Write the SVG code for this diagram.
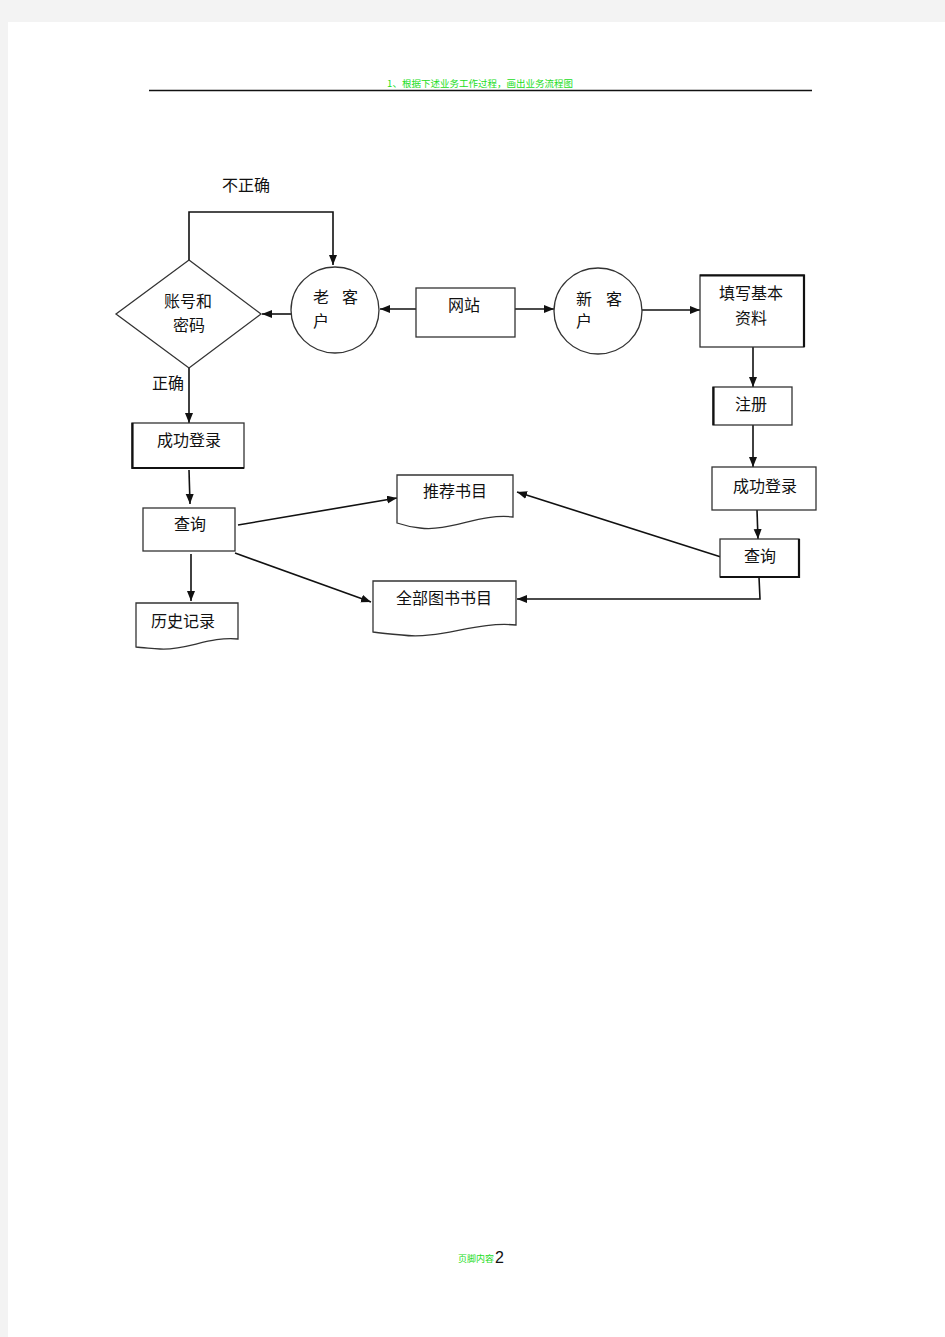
<svg xmlns="http://www.w3.org/2000/svg" width="945" height="1337" viewBox="0 0 945 1337">
<style>
.bg{fill:#f3f3f3}
.page{fill:#ffffff}
.box{fill:#ffffff;stroke:#333333;stroke-width:1.3}
.thick{stroke:#111111;stroke-width:2.2;fill:none}
.lbl{font-family:"Noto Sans CJK SC","Liberation Sans",sans-serif;font-size:16px;fill:#111111}
.mid{text-anchor:middle}
.conn{fill:none;stroke:#111111;stroke-width:1.6}
.hdr{font-family:"Noto Sans CJK SC","Liberation Sans",sans-serif;font-size:9.5px;fill:#22dd22}
</style>
<defs>
<marker id="ah" markerUnits="userSpaceOnUse" markerWidth="12" markerHeight="10" refX="10" refY="4" orient="auto">
<path d="M0,0 L10,4 L0,8 z" fill="#111111"/>
</marker>
</defs>
<rect class="bg" x="0" y="0" width="945" height="1337"/>
<rect class="page" x="8" y="22" width="937" height="1315"/>

<g id="header">
<text class="hdr" x="480" y="87" text-anchor="middle">1、根据下述业务工作过程，画出业务流程图</text>
<line x1="149" y1="90.5" x2="812" y2="90.5" stroke="#111111" stroke-width="1.3"/>
</g>

<g id="footer">
<text x="476" y="1262" font-family="'Noto Sans CJK SC','Liberation Sans',sans-serif" font-size="9px" fill="#22dd22" text-anchor="middle">页脚内容</text>
<text x="495" y="1263" font-family="'Liberation Sans',sans-serif" font-size="16px" fill="#111111">2</text>
</g>

<g id="connectors">
<path class="conn" d="M189,260 V212 H333 V265" marker-end="url(#ah)"/>
<path class="conn" d="M291,314 H262" marker-end="url(#ah)"/>
<path class="conn" d="M416,309 H380" marker-end="url(#ah)"/>
<path class="conn" d="M515,309 H554" marker-end="url(#ah)"/>
<path class="conn" d="M642,310 H700" marker-end="url(#ah)"/>
<path class="conn" d="M753,347 V387" marker-end="url(#ah)"/>
<path class="conn" d="M753,425 V467" marker-end="url(#ah)"/>
<path class="conn" d="M757,510 L758,539" marker-end="url(#ah)"/>
<path class="conn" d="M721,557 L517,492" marker-end="url(#ah)"/>
<path class="conn" d="M759,577 L760,599 H517" marker-end="url(#ah)"/>
<path class="conn" d="M189,368 V423" marker-end="url(#ah)"/>
<path class="conn" d="M189,470 L190,504" marker-end="url(#ah)"/>
<path class="conn" d="M238,525 L397,498" marker-end="url(#ah)"/>
<path class="conn" d="M235,553 L371,602" marker-end="url(#ah)"/>
<path class="conn" d="M191,554 V601" marker-end="url(#ah)"/>
</g>

<g id="label-wrong">
<text class="lbl" x="222" y="191">不正确</text>
</g>
<g id="label-right">
<text class="lbl" x="152" y="389">正确</text>
</g>

<g id="node-diamond">
<polygon class="box" points="189,260 261,314 189,368 116,314"/>
<text class="lbl mid" x="188" y="307">账号和</text>
<text class="lbl mid" x="189" y="331">密码</text>
</g>

<g id="node-old-customer">
<ellipse class="box" cx="335" cy="310" rx="44" ry="43"/>
<text class="lbl" x="313" y="303">老</text>
<text class="lbl" x="342" y="303">客</text>
<text class="lbl" x="313" y="327">户</text>
</g>

<g id="node-website">
<rect class="box" x="416" y="288" width="99" height="49"/>
<text class="lbl mid" x="464" y="311">网站</text>
</g>

<g id="node-new-customer">
<ellipse class="box" cx="598" cy="311" rx="44" ry="43"/>
<text class="lbl" x="576" y="305">新</text>
<text class="lbl" x="606" y="305">客</text>
<text class="lbl" x="576" y="327">户</text>
</g>

<g id="node-fill-info">
<rect class="box" x="700" y="275" width="104" height="72"/>
<path class="thick" d="M700,275.5 H804 V347"/>
<text class="lbl mid" x="751" y="299">填写基本</text>
<text class="lbl mid" x="751" y="324">资料</text>
</g>

<g id="node-register">
<rect class="box" x="713" y="387" width="79" height="38"/>
<path class="thick" d="M713.5,387 V425"/>
<text class="lbl mid" x="751" y="410">注册</text>
</g>

<g id="node-login-right">
<rect class="box" x="712" y="467" width="104" height="43"/>
<text class="lbl mid" x="765" y="492">成功登录</text>
</g>

<g id="node-query-right">
<rect class="box" x="720" y="539" width="79" height="38"/>
<path class="thick" d="M799,539 V577 H720"/>
<text class="lbl mid" x="760" y="562">查询</text>
</g>

<g id="node-recommend">
<path class="box" d="M397,523 V475 H513 V517 C480,513 450,532 420,528 C410,527 403,525 397,523 z"/>
<text class="lbl mid" x="455" y="497">推荐书目</text>
</g>

<g id="node-all-books">
<path class="box" d="M373,632 V581 H516 V625 C475,621 440,640 402,635 C390,634 380,633 373,632 z"/>
<text class="lbl mid" x="444" y="604">全部图书书目</text>
</g>

<g id="node-login-left">
<rect class="box" x="132" y="423" width="112" height="45"/>
<path class="thick" d="M132.5,423 V468 H244"/>
<text class="lbl mid" x="189" y="446">成功登录</text>
</g>

<g id="node-query-left">
<rect class="box" x="143" y="508" width="92" height="43"/>
<text class="lbl mid" x="190" y="530">查询</text>
</g>

<g id="node-history">
<path class="box" d="M136,647 V603 H238 V639 C210,636 185,651 160,649 C150,648 142,648 136,647 z"/>
<text class="lbl mid" x="183" y="627">历史记录</text>
</g>
</svg>
